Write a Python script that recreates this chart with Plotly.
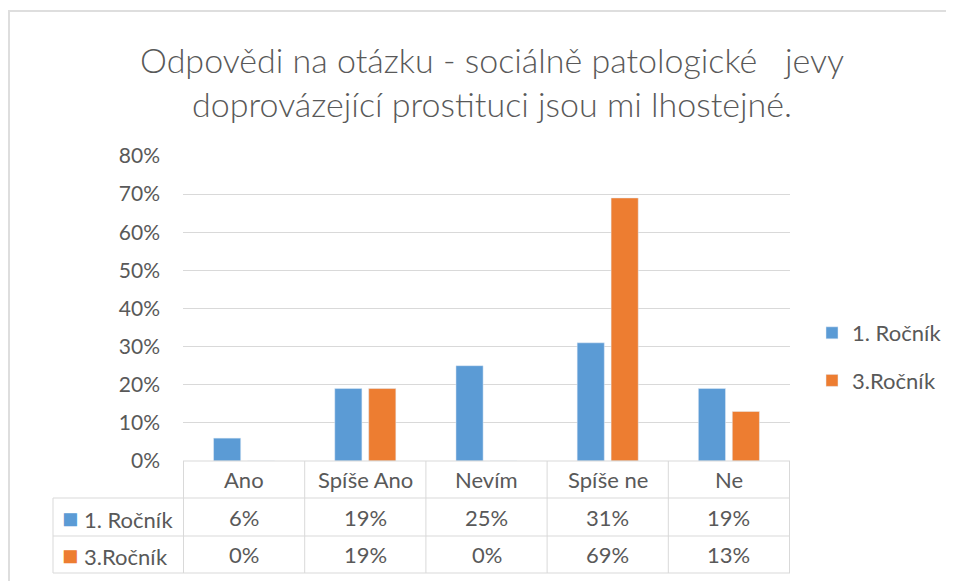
import plotly.graph_objects as go

categories = ["Ano", "Spíše Ano", "Nevím", "Spíše ne", "Ne"]
series_names = ["1. Ročník", "3.Ročník"]
first_year = [6, 19, 25, 31, 19]
third_year = [0, 19, 0, 69, 13]
y_ticks = [0, 10, 20, 30, 40, 50, 60, 70, 80]
title_text = "Odpovědi na otázku - sociálně patologické   jevy<br>doprovázející prostituci jsou mi lhostejné."

BLUE = "#5B9BD5"
ORANGE = "#ED7D31"
TEXT = "#595959"
GRID = "#D9D9D9"
FONT = "Lato"

OFF = 8  # page body margin
W, H = 954 - OFF, 581 - OFF
L, T = 183 - OFF, 156 - OFF
R, B = W - (790 - OFF), H - (461 - OFF)
PW, PH = W - L - R, H - T - B

def px_x(x):
    return (x - 183) / PW

def px_y(y):
    return (461 - y) / PH

fig = go.Figure()
fig.add_trace(go.Bar(x=categories, y=first_year, name=series_names[0],
                     marker_color=BLUE, legendgroup="a"))
fig.add_trace(go.Bar(x=categories, y=third_year, name=series_names[1],
                     marker_color=ORANGE, legendgroup="b"))

shapes = []
line = dict(color=GRID, width=1)
row_y = [px_y(461), px_y(498), px_y(536), px_y(573)]
shapes.append(dict(type="line", xref="paper", yref="paper", x0=0, x1=1, y0=row_y[0], y1=row_y[0], line=line))
for yy in row_y[1:]:
    shapes.append(dict(type="line", xref="paper", yref="paper", x0=px_x(53), x1=1, y0=yy, y1=yy, line=line))
for i in range(len(categories) + 1):
    shapes.append(dict(type="line", xref="x", yref="paper", x0=i - 0.5, x1=i - 0.5,
                       y0=row_y[0], y1=row_y[3], line=line))
shapes.append(dict(type="line", xref="paper", yref="paper", x0=px_x(53), x1=px_x(53),
                   y0=row_y[1], y1=row_y[3], line=line))
shapes.append(dict(type="line", xref="paper", yref="paper", x0=px_x(8), x1=px_x(970),
                   y0=px_y(11), y1=px_y(11), line=dict(color="#DEDEDE", width=2)))
shapes.append(dict(type="line", xref="paper", yref="paper", x0=px_x(9), x1=px_x(9),
                   y0=px_y(11), y1=px_y(600), line=dict(color="#DEDEDE", width=2)))

annotations = []
cell_font = dict(family=FONT, size=22, color=TEXT)
row_mid = [(row_y[0] + row_y[1]) / 2, (row_y[1] + row_y[2]) / 2, (row_y[2] + row_y[3]) / 2]
for i, c in enumerate(categories):
    annotations.append(dict(x=c, xref="x", y=row_mid[0], yref="paper", text=c,
                            showarrow=False, font=cell_font, xanchor="center", yanchor="middle"))
    annotations.append(dict(x=c, xref="x", y=row_mid[1], yref="paper", text=f"{first_year[i]}%",
                            showarrow=False, font=cell_font, xanchor="center", yanchor="middle"))
    annotations.append(dict(x=c, xref="x", y=row_mid[2], yref="paper", text=f"{third_year[i]}%",
                            showarrow=False, font=cell_font, xanchor="center", yanchor="middle"))
for k, (nm, col) in enumerate(zip(series_names, [BLUE, ORANGE])):
    annotations.append(dict(x=px_x(60), xref="paper", y=row_mid[k + 1], yref="paper",
                            text=f"<span style='color:{col};font-size:27px'>■</span> {nm}",
                            showarrow=False, font=cell_font, xanchor="left", yanchor="middle"))

fig.update_layout(
    width=W, height=H,
    margin=dict(l=L, r=R, t=T, b=B, autoexpand=False),
    paper_bgcolor="white", plot_bgcolor="white",
    title=dict(text=title_text, x=(492 - OFF) / W, xref="container", xanchor="center",
               y=(H - (73 - OFF)) / H, yref="container", yanchor="middle",
               font=dict(family=FONT, size=34, color=TEXT, weight=300)),
    barmode="group", bargap=0.44, bargroupgap=0.2,
    xaxis=dict(showticklabels=False, showgrid=False, zeroline=False, showline=False, ticks=""),
    yaxis=dict(range=[0, 80], tickvals=y_ticks, ticktext=[f"{v}%" for v in y_ticks],
               showgrid=True, gridcolor=GRID, gridwidth=1, zeroline=False, showline=False,
               ticks="", ticklabelstandoff=22,
               tickfont=dict(family=FONT, size=21, color=TEXT)),
    legend=dict(x=px_x(812), y=px_y(357), xanchor="left", yanchor="middle",
                font=dict(family=FONT, size=22, color=TEXT), tracegroupgap=16,
                bgcolor="rgba(0,0,0,0)"),
    shapes=shapes, annotations=annotations,
)

fig.write_html("out.html")
